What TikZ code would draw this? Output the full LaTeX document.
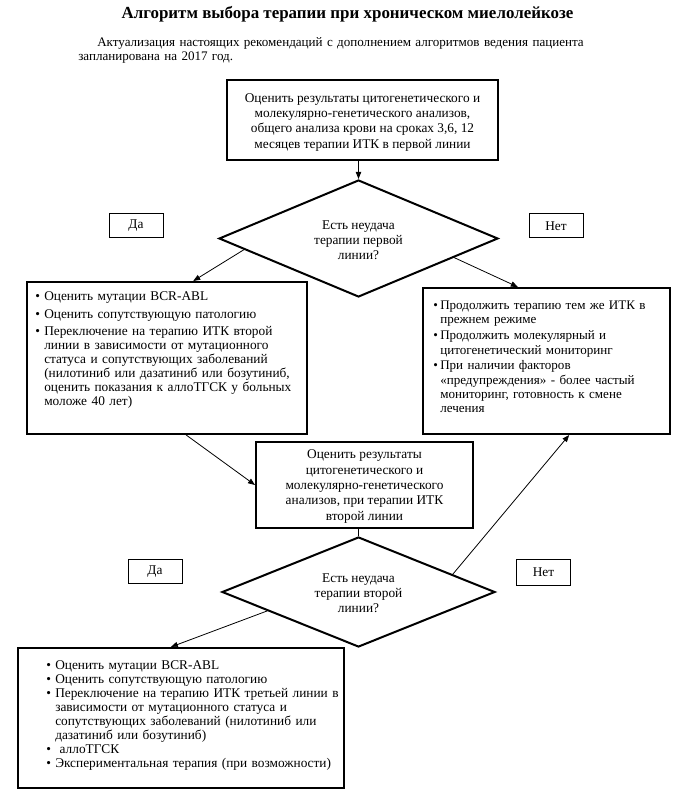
\documentclass[tikz,border=0pt]{standalone}
\usepackage{fontspec}
\setmainfont{Liberation Serif}
\usetikzlibrary{shapes.geometric,arrows.meta,calc}
\newcommand{\li}[2]{\par\noindent\hangindent=#1\hangafter=1\makebox[#1][l]{\textbullet}#2\par}
\begin{document}
\begin{tikzpicture}[x=0.75pt,y=-0.75pt,
  bigbox/.style={draw, line width=1.5pt, inner sep=0pt},
  centertext/.style={align=center, font=\fontsize{10}{11.5}\selectfont},
  smallbox/.style={draw, line width=0.75pt, minimum width=54*0.75pt, minimum height=24*0.75pt, inner sep=0pt, font=\fontsize{10}{12}\selectfont},
  decision/.style={draw, diamond, line width=1.5pt, inner sep=0pt, align=center, font=\fontsize{10}{11.25}\selectfont},
  listtext/.style={anchor=north west, inner sep=0pt, align=left, font=\fontsize{10}{10.5}\selectfont},
  conn/.style={line width=0.6pt, -{Triangle[length=5.25pt,width=4pt]}},
  plainline/.style={line width=0.6pt}]
\fill[white] (0,0) rectangle (678,798);
\useasboundingbox (0,0) rectangle (678,798);

\node[font=\fontsize{12.7}{15}\selectfont\bfseries] (title) at (347.5,14) {Алгоритм выбора терапии при хроническом миелолейкозе};
\node[anchor=north west, inner sep=0pt, text width=520pt, align=left, font=\fontsize{9.8}{10.5}\selectfont] (sub) at (78,37.5)
  {\hspace*{14.25pt}Актуализация настоящих рекомендаций с дополнением алгоритмов ведения пациента\newline запланирована на 2017 год.};

\node[bigbox, centertext, minimum width=271*0.75pt, minimum height=80*0.75pt] (b1) at (362.5,120)
  {\rule{0pt}{10pt}Оценить результаты цитогенетического и\\ молекулярно-генетического анализов,\\ общего анализа крови на сроках 3,6, 12\\ месяцев терапии ИТК в первой линии};

\node[decision, aspect=2.38, minimum width=279*0.75pt, minimum height=117*0.75pt] (d1) at (358.5,238.5)
  {\rule{0pt}{9pt}Есть неудача\\терапии первой\\линии?};

\node[smallbox] (da1) at (136,226) {Да};
\node[smallbox] (net1) at (556,226) {Нет};

\node[bigbox, anchor=north west, minimum width=280*0.75pt, minimum height=152*0.75pt] (lb) at (26,281) {};
\node[listtext, text width=225pt] (lbt) at (35,282.5) {\setlength{\parskip}{2.8pt}%
  \li{6.75pt}{Оценить мутации BCR-ABL}%
  \li{6.75pt}{Оценить сопутствующую патологию}%
  \li{6.75pt}{Переключение на терапию ИТК второй\newline линии в зависимости от мутационного\newline статуса и сопутствующих заболеваний\newline (нилотиниб или дазатиниб или бозутиниб,\newline оценить показания к аллоТГСК у больных\newline моложе 40 лет)}};

\node[bigbox, anchor=north west, minimum width=247*0.75pt, minimum height=146*0.75pt] (rb) at (422,287) {};
\node[listtext, text width=190pt, font=\fontsize{9.8}{10.7}\selectfont] (rbt) at (433,293.5) {\setlength{\parskip}{1.2pt}%
  \li{5.25pt}{Продолжить терапию тем же ИТК в\newline прежнем режиме}%
  \li{5.25pt}{Продолжить молекулярный и\newline цитогенетический мониторинг}%
  \li{5.25pt}{При наличии факторов\newline «предупреждения» - более частый\newline мониторинг, готовность к смене\newline лечения}};

\node[bigbox, centertext, minimum width=217*0.75pt, minimum height=86*0.75pt] (mb) at (364.5,485)
  {\rule{0pt}{9pt}Оценить результаты\\ цитогенетического и\\ молекулярно-генетического\\ анализов, при терапии ИТК\\ второй линии};

\node[decision, aspect=2.48, minimum width=273*0.75pt, minimum height=110*0.75pt] (d2) at (358.5,592)
  {\rule{0pt}{9pt}Есть неудача\\терапии второй\\линии?};

\node[smallbox] (da2) at (155,571.5) {Да};
\node[smallbox, minimum height=26*0.75pt] (net2) at (543.5,572) {Нет};

\node[bigbox, anchor=north west, minimum width=326*0.75pt, minimum height=140*0.75pt] (bb) at (17,647) {};
\node[listtext, text width=260pt] (bbt) at (46,655.5) {\setlength{\parskip}{0pt}%
  \li{6.75pt}{Оценить мутации BCR-ABL}%
  \li{6.75pt}{Оценить сопутствующую патологию}%
  \li{6.75pt}{Переключение на терапию ИТК третьей линии в\newline зависимости от мутационного статуса и\newline сопутствующих заболеваний (нилотиниб или\newline дазатиниб или бозутиниб)}%
  \li{6.75pt}{\ аллоТГСК}%
  \li{6.75pt}{Экспериментальная терапия (при возможности)}};

\draw[conn] (b1.south -| d1.north) -- (d1.north);
\draw[conn] ($(d1.west)!0.186!(d1.south)$) -- ($(lb.north west)!0.593!(lb.north east)$);
\draw[conn] ($(d1.east)!0.32!(d1.south)$) -- ($(rb.north west)!0.385!(rb.north east)$);
\draw[conn] ($(lb.south west)!0.568!(lb.south east)$) -- (mb.west);
\draw[plainline] (mb.south -| d2.north) -- (d2.north);
\draw[conn] ($(d2.east)!0.315!(d2.north)$) -- ($(rb.south west)!0.591!(rb.south east)$);
\draw[conn] ($(d2.west)!0.337!(d2.south)$) -- ($(bb.north west)!0.469!(bb.north east)$);
\end{tikzpicture}
\end{document}
